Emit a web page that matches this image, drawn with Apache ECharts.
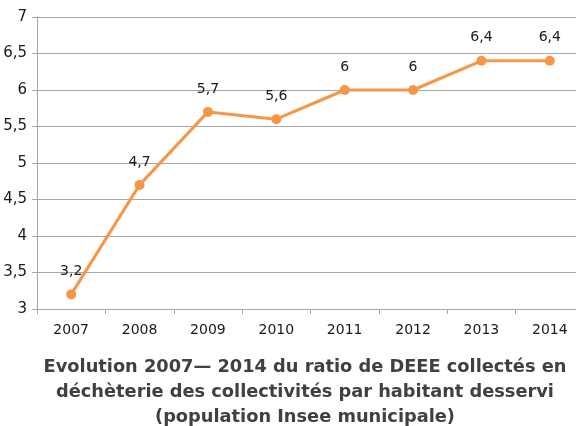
<!DOCTYPE html>
<html>
<head>
<meta charset="UTF-8">
<title>DEEE</title>
<script type="text/javascript" src="https://cdn.jsdelivr.net/npm/echarts@6/dist/echarts.min.js"></script>
<style>
  html, body { margin: 0; padding: 0; background: #fff; }
</style>
</head>
<body>
<div id="main" style="width:576px;height:426px"></div>
<script type="text/javascript">
var years = ['2007', '2008', '2009', '2010', '2011', '2012', '2013', '2014'];
var ratios = [3.2, 4.7, 5.7, 5.6, 6, 6, 6.4, 6.4];
var titleLines = [
  'Evolution 2007\u2014 2014 du ratio de DEEE collectés en',
  'déchèterie des collectivités par habitant desservi',
  '(population Insee municipale)'
];

function comma(v) {
  return String(v).replace('.', ',');
}

var myChart = echarts.init(document.getElementById('main'));

var option = {
  backgroundColor: '#fff',
  animation: false,
  title: {
    text: titleLines.join('\n'),
    left: 300,
    top: 350,
    textAlign: 'center',
    textStyle: {
      fontFamily: 'DejaVu Sans',
      fontWeight: 'bold',
      fontSize: 17.8,
      lineHeight: 25,
      color: '#404040'
    }
  },
  grid: {
    left: 37,
    width: 547,
    top: 17,
    height: 292,
    outerBoundsMode: 'none',
    containLabel: false
  },
  xAxis: {
    type: 'category',
    data: years,
    axisLine: { lineStyle: { color: '#a6a6a6' } },
    axisTick: { show: true, length: 5, lineStyle: { color: '#a6a6a6' } },
    axisLabel: {
      margin: 14,
      fontFamily: 'DejaVu Sans',
      fontSize: 14,
      color: '#1a1a1a'
    }
  },
  yAxis: {
    type: 'value',
    min: 3,
    max: 7,
    interval: 0.5,
    axisLine: { show: true, lineStyle: { color: '#a6a6a6' } },
    axisTick: { show: true, length: 5, lineStyle: { color: '#a6a6a6' } },
    splitLine: { lineStyle: { color: '#a6a6a6' } },
    axisLabel: {
      margin: 10,
      fontFamily: 'DejaVu Sans',
      fontSize: 15,
      color: '#1a1a1a',
      formatter: comma
    }
  },
  series: [
    {
      type: 'line',
      data: ratios,
      color: '#f79646',
      lineStyle: { width: 3, color: '#f79646' },
      symbol: 'circle',
      symbolSize: 10,
      itemStyle: { color: '#f79646' },
      label: {
        show: true,
        position: 'top',
        distance: 11,
        fontFamily: 'DejaVu Sans',
        fontSize: 14,
        color: '#1a1a1a',
        formatter: function (p) { return comma(p.value); }
      }
    }
  ]
};

myChart.setOption(option);
</script>
</body>
</html>
